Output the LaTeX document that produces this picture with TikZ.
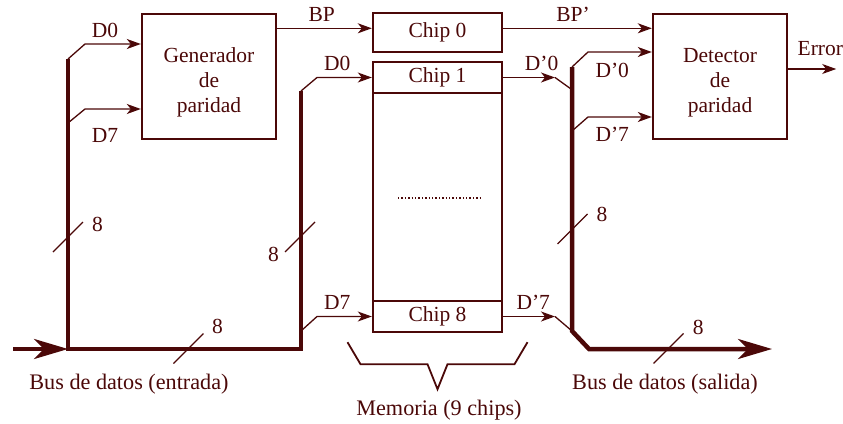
\documentclass[tikz,border=0pt]{standalone}
\usepackage{fontspec}
\setmainfont{Liberation Serif}
\usetikzlibrary{arrows.meta, positioning, calc}
\definecolor{busred}{RGB}{75, 8, 8}
\tikzset{
  caja/.style={draw=busred, line width=2.4pt, minimum width=134pt, minimum height=125pt, inner sep=0pt},
  chipbox/.style={draw=busred, line width=2.4pt, minimum width=129pt, inner sep=0pt},
  flecha/.style={busred, line width=1.3pt, -{Stealth[length=14pt, width=10pt, inset=4pt]}},
  linea/.style={busred, line width=1.3pt},
  bus/.style={busred, line width=4.5pt, line join=miter},
  busflecha/.style={bus, -{Stealth[length=34pt, width=20pt, inset=10pt]}},
  etiq/.style={inner sep=1pt},
  rotulo/.style={font=\fontsize{22.2}{26}\selectfont},
  rayita/.style={busred, line width=1.3pt}
}

\begin{document}
\begin{tikzpicture}[x=1pt, y=-1pt, font=\fontsize{21.5}{25}\selectfont, every node/.style={text=busred}]
        \useasboundingbox (0,0) rectangle (843,423);
        % Bloques
        \node[caja] (gen) at (209,76.5) {};
        \node[align=center] (gentxt) at ([yshift=-6pt]gen.center) {Generador\\de\\paridad};
        \node[caja] (det) at (720,76.5) {};
        \node[align=center] (dettxt) at ([yshift=-6pt]det.center) {Detector\\de\\paridad};
        % Memoria
        \node[chipbox, minimum height=39pt] (chip0) at (437.5,32.5) {Chip 0};
        \node[chipbox, minimum height=270pt] (mem) at (437.5,197) {};
        \node[chipbox, minimum height=31pt, anchor=north] (chip1) at (mem.north) {Chip 1};
        \node[chipbox, minimum height=31pt, anchor=south] (chip8) at (mem.south) {Chip 8};
        \draw[busred, line width=1.4pt, dash pattern=on 1.4pt off 2pt] (398,198) -- (481,198);
        \draw[busred, line width=1.8pt] ($(mem.south)+(-90,9)$) -- ++(13,22) -- ++(67,0)
          -- ++(10,25) -- ++(10,-25) -- ++(67,0) -- ++(13,-22);
        \node[rotulo] (memtxt) at (439,410) {Memoria (9 chips)};
        % Bus de entrada
        \coordinate (inS) at (13,349);
        \coordinate (inA) at (68,59);
        \coordinate (inA7) at (68,123);
        \coordinate (inB) at (68,349);
        \coordinate (inC) at (301,349);
        \coordinate (inD) at (301,91);
        \coordinate (inD7) at (301,331);
        \draw[busflecha] (inS) -- (inB);
        \draw[bus] (inA) -- (inB) -- (inC) -- (inD);
        \draw[flecha] (inA) -- ++(17,-15) -- (gen.west |- 0,44)
          node[etiq, pos=0.36, above=5pt] {D0};
        \draw[flecha] (inA7) -- ++(17,-14) -- (gen.west |- 0,109)
          node[etiq, pos=0.36, below=18pt] {D7};
        \draw[flecha] (inD) -- ++(16,-13.5) -- (chip1.west)
          node[etiq, pos=0.37, above=5pt] {D0};
        \draw[flecha] (inD7) -- ++(16,-14.5) -- (chip8.west)
          node[etiq, pos=0.37, above=5pt] {D7};
        \node[rotulo] (busin) at (129,384) {Bus de datos (entrada)};
        % Bus de salida
        \coordinate (outA) at (572,67);
        \coordinate (outA0) at (571,89);
        \coordinate (outA7) at (572,131);
        \coordinate (outB) at (572,331);
        \coordinate (outC) at (589,349);
        \coordinate (outE) at (772,349);
        \coordinate (dq0) at (555,77.5);
        \coordinate (dq7) at (555,316.5);
        \draw[busflecha] (outA) -- (outB) -- (outC) -- (outE);
        \draw[flecha] (chip1.east) -- (dq0) node[etiq, pos=0.74, above=5pt] {D’0};
        \draw[linea] (dq0) -- (outA0);
        \draw[flecha] (chip8.east) -- (dq7) node[etiq, pos=0.58, above=5pt] {D’7};
        \draw[linea] (dq7) -- (outB);
        \draw[flecha] (outA) -- ++(16,-15) -- (det.west |- 0,52)
          node[etiq, pos=0.38, below=10pt] {D’0};
        \draw[flecha] (outA7) -- ++(16,-14) -- (det.west |- 0,117)
          node[etiq, pos=0.38, below=9pt] {D’7};
        \node[rotulo] (busout) at (665,384) {Bus de datos (salida)};
        % Bit de paridad
        \draw[flecha] (gen.east |- 0,28.3) -- (chip0.west |- 0,28.3)
          node[etiq, pos=0.47, above=5pt] {BP};
        \draw[flecha] (chip0.east |- 0,28.3) -- (det.west |- 0,28.3)
          node[etiq, pos=0.47, above=5pt] {BP’};
        \draw[flecha] (det.east |- 0,69) -- ++(48,0)
          node[etiq, pos=0.67, above=12pt] {Error};
        % Anchos de bus
        \foreach \tx/\ty/\lx/\ly [count=\i] in {68/237/97.5/224.5, 300/237/273.5/254.7,
            188.5/348.5/217.5/326, 572.5/229/602/214.7, 668.5/348.5/698.3/327.5}{
          \draw[rayita] (\tx-15,\ty+15) -- (\tx+15,\ty-15);
          \node (ocho\i) at (\lx,\ly) {8};
        }
      \end{tikzpicture}
\end{document}
